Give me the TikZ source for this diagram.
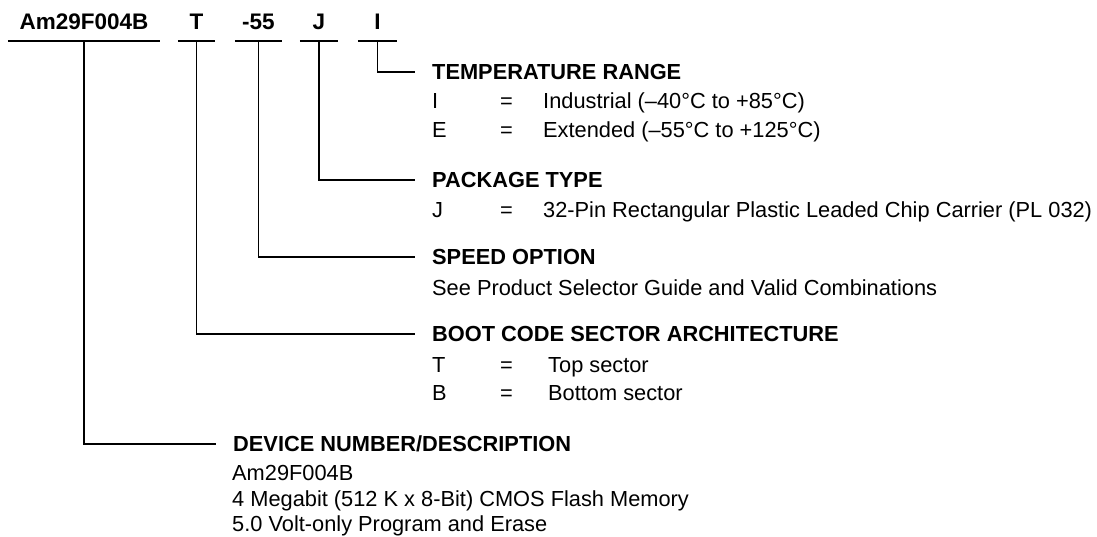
\documentclass[tikz,border=0pt]{standalone}
\usepackage{fontspec}
\setmainfont{Liberation Sans}
\usetikzlibrary{positioning}

\begin{document}
\begin{tikzpicture}[
    x=1pt, y=-1pt,
    partno/.style={font=\fontsize{22.5}{27}\selectfont\bfseries, anchor=south,
                   inner xsep=0pt, inner ysep=11pt, text height=16pt, text depth=0pt},
    heading/.style={font=\fontsize{21.8}{29}\selectfont\bfseries, anchor=west,
                    inner xsep=17pt, inner ysep=0pt, text height=15.6pt, text depth=0pt},
    row/.style={font=\fontsize{21.8}{29}\selectfont, anchor=base west, inner sep=0pt},
    lead/.style={line width=1.5pt},
  ]
  \useasboundingbox (0,0) rectangle (1097,537);

  % Part number fields (top line, each underlined)
  \node[partno, minimum width=152pt] (dev)   at (84,41)    {Am29F004B};
  \node[partno, minimum width=37pt]  (boot)  at (196.5,41) {T};
  \node[partno, minimum width=47pt]  (speed) at (258.5,41) {-55};
  \node[partno, minimum width=38pt]  (pkg)   at (319,41)   {J};
  \node[partno, minimum width=39pt]  (temp)  at (377.5,41) {I};

  % Section headings
  \node[heading] (tempH)  at (415,72)  {TEMPERATURE RANGE};
  \node[heading] (pkgH)   at (415,180) {PACKAGE TYPE};
  \node[heading] (speedH) at (415,257) {SPEED OPTION};
  \node[heading] (bootH)  at (415,334) {BOOT CODE SECTOR ARCHITECTURE};
  \node[heading] (devH)   at (216,444) {DEVICE NUMBER/DESCRIPTION};

  % Temperature range
  \node[row] (tempIk)  at (432,109) {I};
  \node[row] (tempIeq) at (500,109) {=};
  \node[row] (tempIv)  at (543,109) {Industrial (–40°C to +85°C)};
  \node[row] (tempEk)  at (432,138) {E};
  \node[row] (tempEeq) at (500,138) {=};
  \node[row] (tempEv)  at (543,138) {Extended (–55°C to +125°C)};
  % Package type
  \node[row] (pkgJk)   at (432,218) {J};
  \node[row] (pkgJeq)  at (500,218) {=};
  \node[row] (pkgJv)   at (543,218) {32-Pin Rectangular Plastic Leaded Chip Carrier (PL 032)};
  % Speed option
  \node[row] (speedS)  at (432,295) {See Product Selector Guide and Valid Combinations};
  % Boot code sector architecture
  \node[row] (bootTk)  at (432,372) {T};
  \node[row] (bootTeq) at (500,372) {=};
  \node[row] (bootTv)  at (548,372) {Top sector};
  \node[row] (bootBk)  at (432,400) {B};
  \node[row] (bootBeq) at (500,400) {=};
  \node[row] (bootBv)  at (548,400) {Bottom sector};
  % Device number/description
  \node[row] (devA)    at (232,480) {Am29F004B};
  \node[row] (devB)    at (232,506) {4 Megabit (512 K x 8-Bit) CMOS Flash Memory};
  \node[row] (devC)    at (232,531) {5.0 Volt-only Program and Erase};

  % Underlines and leader lines
  \foreach \f in {dev,boot,speed,pkg,temp}
    \draw[lead] (\f.south west) -- (\f.south east);
  \draw[lead] (temp.south)  |- (tempH.west);
  \draw[lead] (pkg.south)   |- (pkgH.west);
  \draw[lead] (speed.south) |- (speedH.west);
  \draw[lead] (boot.south)  |- (bootH.west);
  \draw[lead] (dev.south)   |- (devH.west);
\end{tikzpicture}
\end{document}
